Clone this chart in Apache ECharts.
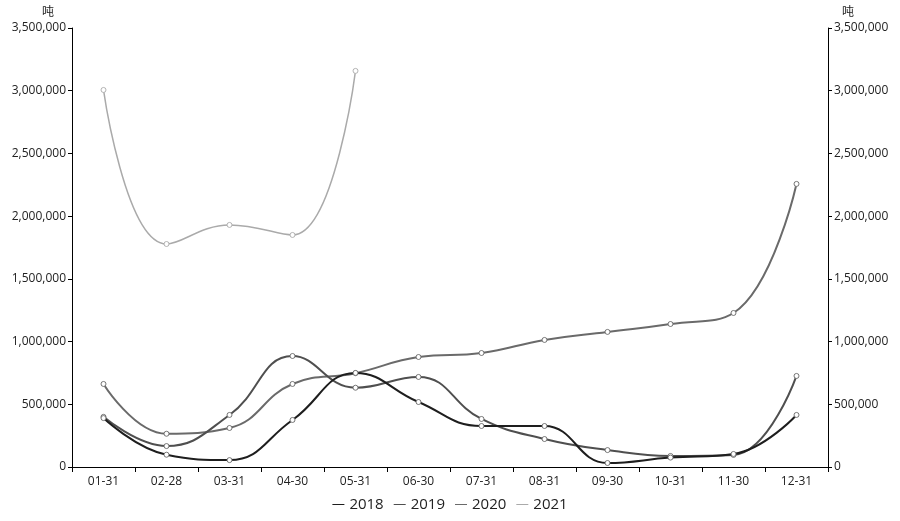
<!DOCTYPE html>
<html lang="zh">
<head>
    <meta charset="UTF-8">
    <title>吨 月度</title>
    <script type="text/javascript" src="https://cdn.jsdelivr.net/npm/echarts@6.0.0/dist/echarts.min.js"></script>
    <style type="text/css">
        html, body {
            margin: 0;
            padding: 0;
            height: 100%;
            width: 100%;
            background: #fff;
        }
        #chart {
            height: 521px;
            width: 900px;
        }
    </style>
</head>
<body>
<div id="chart"></div>
<script type="text/javascript">
    var months = ['01-31', '02-28', '03-31', '04-30', '05-31', '06-30', '07-31', '08-31', '09-30', '10-31', '11-30', '12-31'];
    var y2018 = [390000, 98000, 55000, 375000, 750000, 518000, 327000, 327000, 32000, 75000, 104000, 415000];
    var y2019 = [400000, 167000, 415000, 885000, 632000, 718000, 383000, 223000, 135000, 88000, 96000, 726000];
    var y2020 = [662000, 265000, 311000, 662000, 748000, 877000, 909000, 1013000, 1077000, 1140000, 1228000, 2257000];
    var y2021 = [3006000, 1778000, 1930000, 1850000, 3158000];

    var names = ['2018', '2019', '2020', '2021'];
    var colors = ['#1e1e1e', '#4f4f4f', '#6a6a6a', '#aaaaaa'];
    var widths = [2, 2, 2, 1.5];
    var values = [y2018, y2019, y2020, y2021];

    var chart = echarts.init(document.getElementById('chart'));

    function fmt(v) {
        return v.toString().replace(/\B(?=(\d{3})+(?!\d))/g, ',');
    }

    var yAxisBase = function (side) {
        return {
            type: 'value',
            position: side,
            min: 0,
            max: 3500000,
            interval: 500000,
            name: '吨',
            nameLocation: 'end',
            nameGap: 9,
            nameTextStyle: side === 'left'
                ? {color: '#222', fontSize: 12, align: 'right', padding: [0, 18, 0, 0]}
                : {color: '#222', fontSize: 12, align: 'left', padding: [0, 0, 0, 14]},
            axisLine: {show: true, lineStyle: {color: '#000', width: 1}},
            axisTick: {show: true, length: 4, lineStyle: {color: '#000'}},
            splitLine: {show: false},
            axisLabel: {color: '#222', fontSize: 12, margin: 6, formatter: fmt}
        };
    };

    var series = names.map(function (n, i) {
        return {
            name: n,
            type: 'line',
            yAxisIndex: 0,
            data: values[i],
            smooth: 0.45,
            symbol: 'circle',
            symbolSize: 5,
            showSymbol: true,
            lineStyle: {color: colors[i], width: widths[i]},
            itemStyle: {color: '#fff', borderColor: i === 3 ? '#aaa' : '#666', borderWidth: 0.9},
            z: 10 - i
        };
    });

    var option = {
        animation: false,
        color: colors,
        textStyle: {fontFamily: '"Open Sans", "Noto Sans CJK SC", sans-serif'},
        grid: {left: 72, right: 72, top: 28, bottom: 54},
        legend: {
            bottom: 4,
            left: 'center',
            data: names.map(function (n, i) {
                return {name: n, itemStyle: {color: colors[i], borderWidth: 0}};
            }),
            icon: 'rect',
            itemWidth: 12,
            itemHeight: 1,
            itemGap: 10,
            textStyle: {color: '#222', fontSize: 15}
        },
        xAxis: {
            type: 'category',
            data: months,
            boundaryGap: true,
            axisLine: {lineStyle: {color: '#000', width: 1}},
            axisTick: {show: true, length: 5, alignWithLabel: false, lineStyle: {color: '#000'}},
            axisLabel: {color: '#222', fontSize: 12, margin: 9}
        },
        yAxis: [yAxisBase('left'), yAxisBase('right')],
        series: series
    };
    chart.setOption(option);
</script>
</body>
</html>
